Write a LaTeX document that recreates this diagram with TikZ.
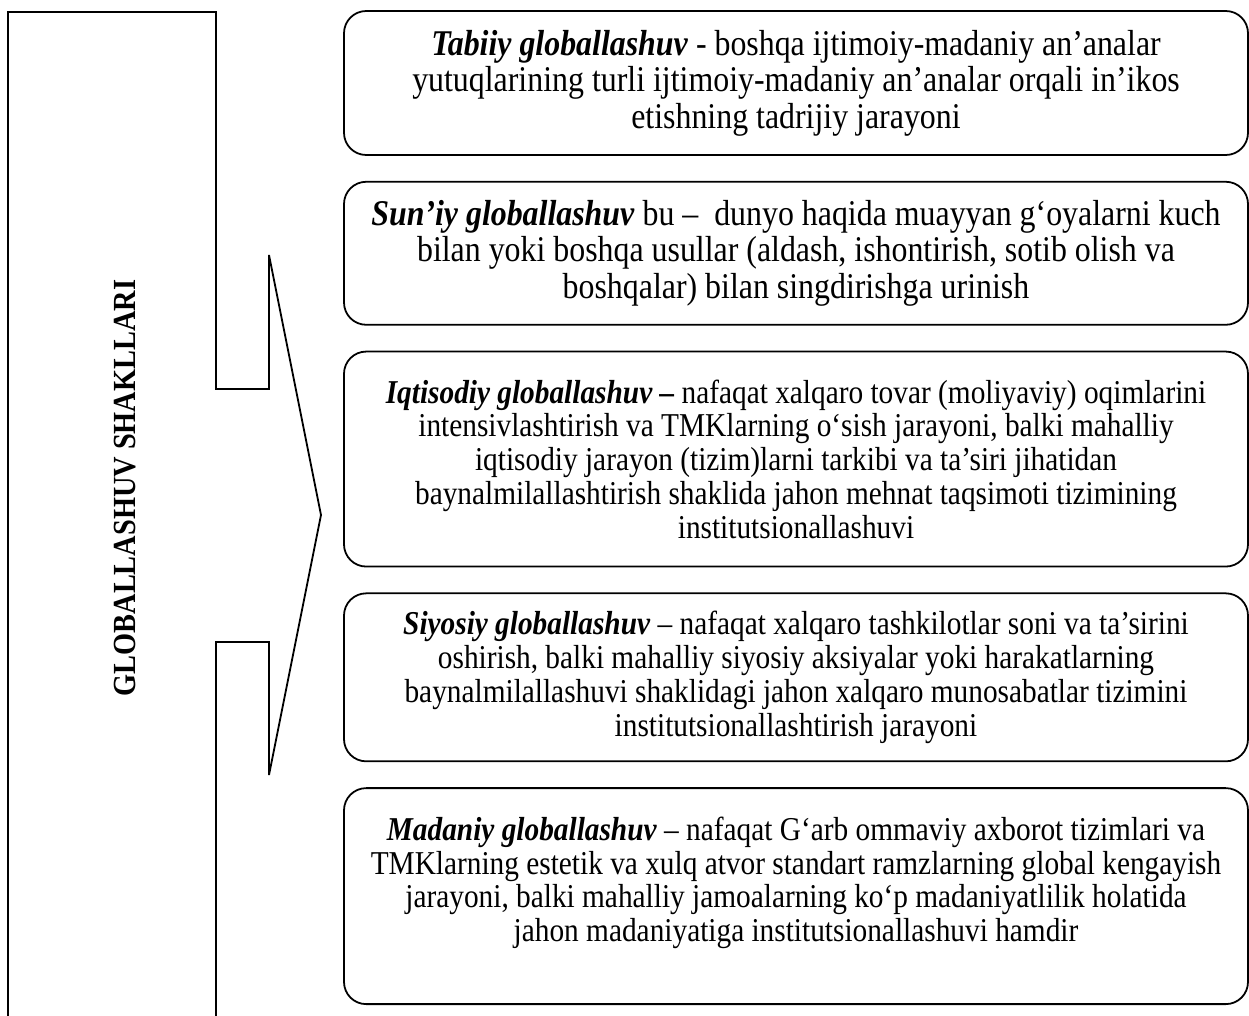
\documentclass[tikz,border=0pt]{standalone}
\usepackage{fontspec}
\setmainfont[FakeStretch=0.88]{Liberation Serif}
\usetikzlibrary{positioning}
\tikzset{
  frameline/.style={draw=black,line width=0.8pt},
  formbox/.style={frameline,rounded corners=10pt,align=center,minimum width=406.8pt,inner sep=0pt,font=\fontsize{15}{15.2}\selectfont},
  largetext/.style={font=\fontsize{16.3}{16.4}\selectfont},
  heading/.style={rotate=90,font=\fontsize{14.5}{16}\selectfont\bfseries}
}
\newcommand{\term}[1]{\textbf{\textit{#1}}}

\begin{document}
\begin{tikzpicture}[x=0.45pt,y=-0.45pt]
  \useasboundingbox (0,0) rectangle (1249,1016);
  % left frame with the arrow
  \draw[frameline] (8,1030) -- (8,12) -- (216,12) -- (216,389) -- (269,389) -- (269,255)
    -- (321,515) -- (269,775) -- (269,642) -- (216,642) -- (216,1030);
  \node[heading] (title) at (125,488) {GLOBALLASHUV SHAKLLARI};

  % the five forms
  \node[formbox,largetext,minimum height=64.8pt] (tabiiy) at (796,83)
    {\term{Tabiiy globallashuv} - boshqa ijtimoiy-madaniy an’analar\\
     yutuqlarining turli ijtimoiy-madaniy an’analar orqali in’ikos\\
     etishning tadrijiy jarayoni};
  \node[formbox,largetext,minimum height=64.35pt,below=11.25pt of tabiiy] (suniy)
    {\term{Sun’iy globallashuv} bu –~ dunyo haqida muayyan g‘oyalarni kuch\\
     bilan yoki boshqa usullar (aldash, ishontirish, sotib olish va\\
     boshqalar) bilan singdirishga urinish};
  \node[formbox,minimum height=96.75pt,below=11.25pt of suniy] (iqtisodiy)
    {\term{Iqtisodiy globallashuv –} nafaqat xalqaro tovar (moliyaviy) oqimlarini\\
     intensivlashtirish va TMKlarning o‘sish jarayoni, balki mahalliy\\
     iqtisodiy jarayon (tizim)larni tarkibi va ta’siri jihatidan\\
     baynalmilallashtirish shaklida jahon mehnat taqsimoti tizimining\\
     institutsionallashuvi};
  \node[formbox,minimum height=75.6pt,below=11.25pt of iqtisodiy] (siyosiy)
    {\term{Siyosiy globallashuv} – nafaqat xalqaro tashkilotlar soni va ta’sirini\\
     oshirish, balki mahalliy siyosiy aksiyalar yoki harakatlarning\\
     baynalmilallashuvi shaklidagi jahon xalqaro munosabatlar tizimini\\
     institutsionallashtirish jarayoni};
  \node[formbox,minimum height=97.2pt,below=11.25pt of siyosiy] (madaniy)
    {\term{Madaniy globallashuv} – nafaqat G‘arb ommaviy axborot tizimlari va\\
     TMKlarning estetik va xulq atvor standart ramzlarning global kengayish\\
     jarayoni, balki mahalliy jamoalarning ko‘p madaniyatlilik holatida\\
     jahon madaniyatiga institutsionallashuvi hamdir\\ \mbox{}};
\end{tikzpicture}
\end{document}
